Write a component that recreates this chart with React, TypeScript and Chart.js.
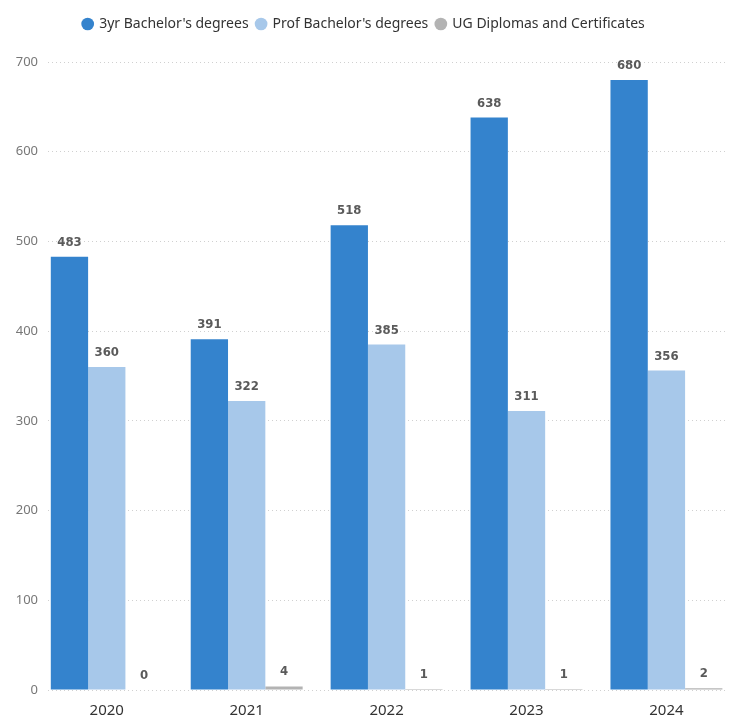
import React, { useEffect, useRef } from 'react';
import { Chart, registerables } from 'chart.js';

Chart.register(...registerables);

const years = ['2020', '2021', '2022', '2023', '2024'];
const threeYrBachelors = [483, 391, 518, 638, 680];
const profBachelors = [360, 322, 385, 311, 356];
const ugDiplomas = [0, 4, 1, 1, 2];
const seriesNames = ["3yr Bachelor's degrees", "Prof Bachelor's degrees", 'UG Diplomas and Certificates'];
const seriesColors = ['#3483CD', '#A7C8EA', '#B3B3B3'];

const FONT = '"DejaVu Sans Condensed", "Liberation Sans Narrow", "Noto Sans", sans-serif';
const FONT2 = '"Noto Sans", "DejaVu Sans", sans-serif';

const valueLabels = {
  id: 'valueLabels',
  afterDatasetsDraw(chart: any) {
    const ctx = chart.ctx;
    ctx.save();
    ctx.font = `bold 13px ${FONT}`;
    ctx.fillStyle = '#5a5a5a';
    ctx.textAlign = 'center';
    ctx.textBaseline = 'alphabetic';
    chart.data.datasets.forEach((ds: any, di: number) => {
      const meta = chart.getDatasetMeta(di);
      meta.data.forEach((el: any, i: number) => {
        const v = ds.data[i].y;
        ctx.fillText(String(v), el.x, el.y - 11);
      });
    });
    ctx.restore();
  },
};

const legendHeight = {
  id: 'legendHeight',
  afterInit(chart: any) {
    const lg = chart.legend;
    if (!lg) return;
    const orig = lg.fit;
    lg.fit = function () {
      orig.call(this);
      this.height = 53;
    };
  },
};

export default function App() {
  const ref = useRef<HTMLCanvasElement | null>(null);
  useEffect(() => {
    if (!ref.current) return;
    const mk = (vals: number[]) => vals.map((v, i) => ({ x: i, y: v }));
    const chart = new Chart(ref.current, {
      type: 'bar',
      data: {
        datasets: [
          { label: seriesNames[0], data: mk(threeYrBachelors), backgroundColor: seriesColors[0] },
          { label: seriesNames[1], data: mk(profBachelors), backgroundColor: seriesColors[1] },
          { label: seriesNames[2], data: mk(ugDiplomas), backgroundColor: seriesColors[2] },
        ] as any,
      },
      options: {
        animation: false,
        responsive: true,
        maintainAspectRatio: false,
        layout: { padding: { top: 9, right: 2, bottom: 0, left: 0 } },
        datasets: { bar: { categoryPercentage: 0.8, barPercentage: 1 } } as any,
        plugins: {
          legend: {
            position: 'top',
            labels: {
              usePointStyle: true,
              pointStyle: 'circle',
              boxWidth: 9,
              boxHeight: 9,
              padding: 8,
              color: '#333333',
              font: { size: 14, family: FONT2 },
            },
          },
          tooltip: { enabled: false },
        },
        scales: {
          x: {
            type: 'linear',
            offset: false,
            min: -0.42,
            max: 4.44,
            afterBuildTicks: (s: any) => {
              s.ticks = years.map((_, i) => ({ value: i }));
            },
            afterFit: (s: any) => {
              s.height = 26;
            },
            ticks: {
              autoSkip: false,
              maxRotation: 0,
              padding: 4,
              color: '#333333',
              font: { size: 15, family: FONT2 },
              callback: (v: any) => years[Math.round(Number(v))] ?? '',
            },
            grid: { display: false },
            border: { display: false },
          },
          y: {
            min: 0,
            max: 700,
            afterFit: (s: any) => {
              s.width = 48;
            },
            ticks: {
              stepSize: 100,
              padding: 10,
              color: '#777777',
              font: { size: 13, family: FONT2 },
            },
            grid: { color: '#d0d0d0', lineWidth: 1, drawTicks: false },
            border: { display: false, dash: [1, 3] },
          },
        },
      } as any,
      plugins: [valueLabels, legendHeight],
    });
    return () => chart.destroy();
  }, []);
  return (
    <div style={{ position: 'absolute', left: 0, top: 0, width: 730, height: 716 }}>
      <canvas ref={ref} />
    </div>
  );
}
